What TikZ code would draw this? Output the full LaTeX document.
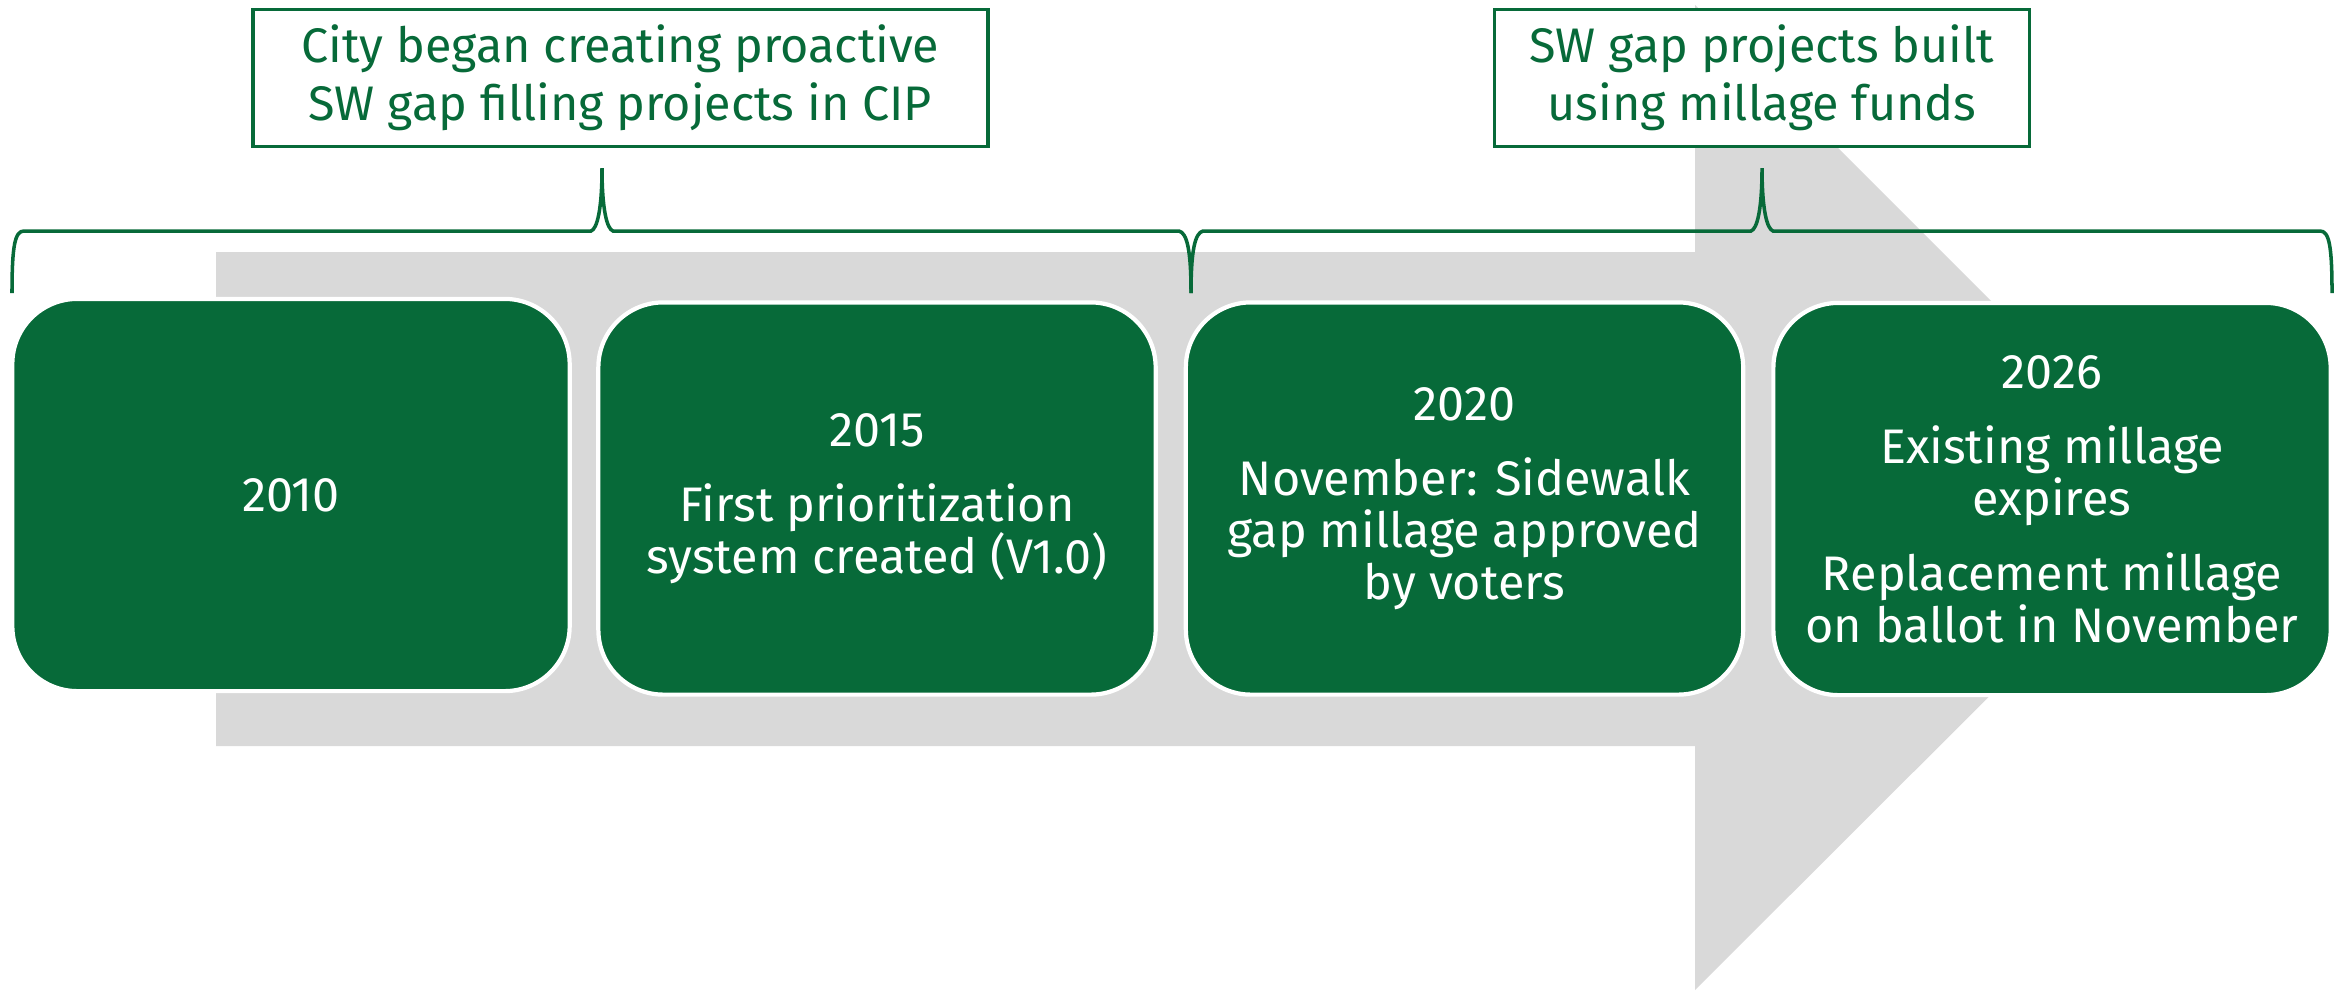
\documentclass[tikz,border=0pt]{standalone}
\usepackage{fontspec}
\setmainfont{Fira Sans}
\definecolor{dkgreen}{RGB}{7,106,57}
\definecolor{arrowgray}{RGB}{217,217,217}
\begin{document}
\begin{tikzpicture}[x=0.01cm,y=-0.01cm,
  gbox/.style={rectangle, rounded corners=0.65cm, fill=dkgreen, draw=white, line width=1.2pt, text=white, align=center, minimum width=5.57cm, minimum height=3.92cm, inner sep=0pt, font=\fontsize{13.8}{14.8}\selectfont},
  callout/.style={rectangle, draw=dkgreen, line width=1pt, fill=white, text=dkgreen, align=center, inner sep=0pt, minimum height=1.37cm, font=\fontsize{13.8}{16.5}\selectfont},
  bracepath/.style={draw=dkgreen, line width=1pt}]
\useasboundingbox (0,0) rectangle (2346,990);
% timeline arrow
\fill[arrowgray] (216,252) -- (1695,252) -- (1695,5) -- (2188,498) -- (1695,990) -- (1695,746) -- (216,746) -- cycle;
% braces
\draw[bracepath] (12,293) .. controls (12,245) and (15,231) .. (24,231) -- (591,231)
  .. controls (597,229) and (602,210) .. (602,168)
  .. controls (602,210) and (607,229) .. (613,231) -- (1179,231)
  .. controls (1187,233) and (1191,250) .. (1191,293);
\draw[bracepath] (1191,293) .. controls (1191,250) and (1195,233) .. (1203,231) -- (1751,231)
  .. controls (1757,229) and (1762,210) .. (1762,168)
  .. controls (1762,210) and (1767,229) .. (1773,231) -- (2320,231)
  .. controls (2329,231) and (2332,245) .. (2332,293);
% callouts
\node[callout, minimum width=7.35cm] (c1) at (620.5,78) {City began creating proactive\\SW gap filling projects in CIP};
\node[callout, minimum width=5.35cm] (c2) at (1762,78) {SW gap projects built\\using millage funds};
% milestone boxes
\node[gbox] (b1) at (291,495) {2010};
\node[gbox] (b2) at (877,498.5) {2015\\[0.23cm]First prioritization\\system created (V1.0)};
\node[gbox] (b3) at (1464.5,498.5) {2020\\[0.23cm]November: Sidewalk\\gap millage approved\\by voters};
\node[gbox] (b4) at (2052,499) {2026\\[0.23cm]Existing millage\\expires\\[0.23cm]Replacement millage\\on ballot in November};
\end{tikzpicture}
\end{document}
